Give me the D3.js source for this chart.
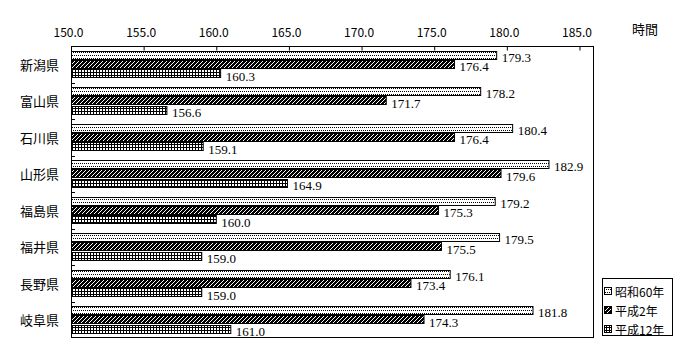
<!DOCTYPE html>
<html><head><meta charset="utf-8">
<script src="https://cdn.jsdelivr.net/npm/d3@7"></script>
<style>body{margin:0;background:#fff}svg{display:block}</style>
</head><body>
<script>
const categories = ["新潟県","富山県","石川県","山形県","福島県","福井県","長野県","岐阜県"];
const seriesNames = ["昭和60年","平成2年","平成12年"];
const s60 = [179.3,178.2,180.4,182.9,179.2,179.5,176.1,181.8];
const h2  = [176.4,171.7,176.4,179.6,175.3,175.5,173.4,174.3];
const h12 = [160.3,156.6,159.1,164.9,160.0,159.0,159.0,161.0];
const tickValues = [150,155,160,165,170,175,180,185];
const unitLabel = "時間";

const W=700,H=360;
const pL=71, pT=46, pR=594, pB=338;
const svg=d3.select("body").append("svg").attr("width",W).attr("height",H);
const defs=svg.append("defs");
// dotted pattern
const pd=defs.append("pattern").attr("id","pDot").attr("patternUnits","userSpaceOnUse").attr("width",2).attr("height",6);
pd.append("rect").attr("width",2).attr("height",6).attr("fill","#fff");
pd.append("rect").attr("x",0).attr("y",1).attr("width",1).attr("height",1).attr("fill","#000");
pd.append("rect").attr("x",1).attr("y",4).attr("width",1).attr("height",1).attr("fill","#000");
// hatched pattern
const ph=defs.append("pattern").attr("id","pHatch").attr("patternUnits","userSpaceOnUse").attr("width",4).attr("height",4);
ph.append("rect").attr("width",4).attr("height",4).attr("fill","#000");
ph.append("path").attr("d","M0,4L4,0M-1,1L1,-1M3,5L5,3").attr("stroke","#fff").attr("stroke-width",1);
// grid pattern
const pg=defs.append("pattern").attr("id","pGrid").attr("patternUnits","userSpaceOnUse").attr("width",3).attr("height",3);
pg.append("rect").attr("width",3).attr("height",3).attr("fill","#000");
pg.append("rect").attr("x",1).attr("y",1).attr("width",2).attr("height",2).attr("fill","#fff");
const fills=["url(#pDot)","url(#pHatch)","url(#pGrid)"];

const x=d3.scaleLinear().domain([150,186]).range([pL,pR]);
const y=d3.scaleBand().domain(categories).range([pT,pB]).padding(0);
const yi=d3.scaleBand().domain(seriesNames).range([4.5,31]).paddingInner(0.2);
const seriesVals=[s60,h2,h12];

// frame
svg.append("rect").attr("x",pL+0.5).attr("y",pT+0.5).attr("width",pR-pL-1).attr("height",pB-pT-1)
  .attr("fill","none").attr("stroke","#000");

// top axis
const ax=d3.axisTop(x).tickValues(tickValues).tickSize(4).tickFormat(d3.format(".1f"));
const axG=svg.append("g").attr("transform",`translate(0,${pT+4.5})`).call(ax);
axG.select(".domain").remove();
axG.selectAll(".tick line").attr("stroke","#000");
axG.selectAll(".tick text").attr("y",-19.5).attr("dy",null).attr("dx",-3).attr("dominant-baseline","central")
  .attr("font-family","'Noto Sans CJK JP', sans-serif").attr("font-size",12).attr("fill","#000");

// left ticks at group boundaries
svg.append("g").selectAll("line").data(categories.slice(1)).join("line")
  .attr("x1",pL).attr("x2",pL+4)
  .attr("y1",d=>Math.round(y(d))+0.5).attr("y2",d=>Math.round(y(d))+0.5)
  .attr("stroke","#000");

// category labels
svg.append("g").selectAll("text").data(categories).join("text")
  .attr("x",59).attr("y",d=>y(d)+y.bandwidth()/2)
  .attr("text-anchor","end").attr("dominant-baseline","central")
  .attr("font-family","'Noto Sans CJK JP', sans-serif").attr("font-size",13).text(d=>d);

// bars
seriesNames.forEach((s,si)=>{
  const g=svg.append("g");
  const vals=seriesVals[si];
  g.selectAll("rect").data(vals).join("rect")
    .attr("x",pL+0.5)
    .attr("y",(d,i)=>Math.round(y(categories[i])+yi(s))+0.5)
    .attr("width",d=>x(d)-pL-0.5)
    .attr("height",Math.round(yi.bandwidth()))
    .attr("fill",fills[si]).attr("stroke","#000").attr("stroke-width",1);
  g.selectAll("text").data(vals).join("text")
    .attr("x",d=>x(d)+5)
    .attr("y",(d,i)=>y(categories[i])+yi(s)+yi.bandwidth()/2+3)
    .attr("dominant-baseline","central")
    .attr("font-family","'Liberation Serif', serif").attr("font-size",13)
    .text(d=>d.toFixed(1));
});

// unit label
svg.append("text").attr("x",632).attr("y",28).attr("dominant-baseline","central")
  .attr("font-family","'Noto Sans CJK JP', sans-serif").attr("font-size",13).text(unitLabel);

// legend
const lg=svg.append("g");
lg.append("rect").attr("x",602.5).attr("y",278.5).attr("width",70).attr("height",57).attr("fill","#fff").attr("stroke","#000");
const ly=[291,310,329];
seriesNames.forEach((s,i)=>{
  lg.append("rect").attr("x",604.5).attr("y",ly[i]-3.5).attr("width",7).attr("height",7)
    .attr("fill",fills[i]).attr("stroke","#000");
  lg.append("text").attr("x",615).attr("y",ly[i]).attr("dominant-baseline","central")
    .attr("font-family","'Noto Sans CJK JP', sans-serif").attr("font-size",12).text(s);
});
</script>
</body></html>
